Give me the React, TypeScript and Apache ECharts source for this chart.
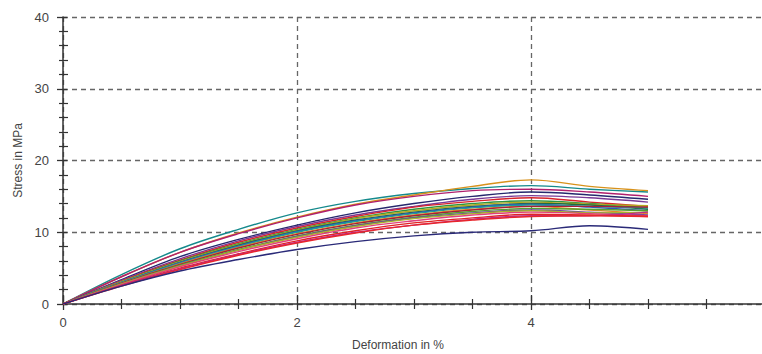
import React, { useEffect, useRef } from "react";
import * as echarts from "echarts";

const xValues = [0, 0.5, 1, 1.5, 2, 2.5, 3, 3.5, 4, 4.5, 5];

const specimen01 = [0, 4.1, 7.7, 10.4, 12.7, 14.3, 15.4, 16.1, 16.5, 16.0, 15.6];
const specimen02 = [0, 3.8, 7.2, 9.9, 12.1, 13.9, 15.2, 16.4, 17.3, 16.4, 15.8];
const specimen03 = [0, 3.8, 7.2, 9.8, 12.0, 13.8, 15.0, 15.8, 16.0, 15.6, 15.0];
const specimen04 = [0, 3.4, 6.6, 9.0, 11.0, 12.7, 14.0, 15.0, 15.6, 15.2, 14.6];
const specimen05 = [0, 3.3, 6.3, 8.8, 10.8, 12.4, 13.6, 14.6, 15.1, 14.8, 14.2];
const specimen06 = [0, 3.2, 6.1, 8.6, 10.6, 12.2, 13.5, 14.3, 14.8, 14.2, 13.6];
const specimen07 = [0, 3.1, 6.0, 8.4, 10.4, 12.0, 13.2, 14.0, 14.4, 14.0, 13.4];
const specimen08 = [0, 3.1, 5.9, 8.3, 10.3, 11.9, 13.0, 13.8, 14.2, 13.9, 13.7];
const specimen09 = [0, 3.0, 5.8, 8.2, 10.2, 11.7, 12.8, 13.6, 14.0, 13.8, 13.2];
const specimen10 = [0, 3.0, 5.8, 8.1, 10.1, 11.6, 12.7, 13.5, 13.9, 13.5, 13.0];
const specimen11 = [0, 3.0, 5.7, 8.0, 10.0, 11.5, 12.6, 13.4, 13.8, 13.6, 13.4];
const specimen12 = [0, 2.9, 5.6, 7.9, 9.8, 11.3, 12.4, 13.2, 13.6, 13.1, 12.6];
const specimen13 = [0, 2.9, 5.5, 7.8, 9.7, 11.2, 12.3, 13.1, 13.6, 13.6, 13.5];
const specimen14 = [0, 2.8, 5.4, 7.6, 9.5, 11.0, 12.1, 12.9, 13.3, 13.2, 13.0];
const specimen15 = [0, 2.8, 5.3, 7.5, 9.4, 10.9, 12.0, 12.7, 13.1, 12.8, 12.4];
const specimen16 = [0, 2.8, 5.3, 7.5, 9.3, 10.8, 11.9, 12.6, 13.0, 12.7, 12.8];
const specimen17 = [0, 2.7, 5.2, 7.3, 9.1, 10.6, 11.6, 12.4, 12.8, 12.6, 12.3];
const specimen18 = [0, 2.6, 5.0, 7.0, 8.8, 10.2, 11.3, 12.0, 12.5, 12.4, 12.2];
const specimen19 = [0, 2.6, 4.9, 6.9, 8.6, 10.0, 11.0, 11.8, 12.3, 12.3, 12.8];
const specimen20 = [0, 2.5, 4.8, 6.8, 8.5, 9.9, 11.0, 11.7, 12.2, 12.3, 12.2];
const specimen21 = [0, 2.5, 4.6, 6.2, 7.6, 8.7, 9.5, 10.0, 10.2, 10.9, 10.4];

const specimens = [
  specimen01, specimen02, specimen03, specimen04, specimen05, specimen06, specimen07,
  specimen08, specimen09, specimen10, specimen11, specimen12, specimen13, specimen14,
  specimen15, specimen16, specimen17, specimen18, specimen19, specimen20, specimen21,
];

const colors = [
  "#158a8c", "#d8921c", "#b0206e", "#26286e", "#7a3a96", "#d8242a", "#2e9440",
  "#b5a820", "#1f6e3c", "#3454b8", "#1c9c9a", "#e08a2a", "#a81e3a", "#55a030",
  "#6a48a0", "#a8b428", "#e0407a", "#e02424", "#c0288a", "#e8262c", "#2a2a78",
];

const xTicks = [0, 2, 4, 6];
const yTicks = [0, 10, 20, 30, 40];

export default function App() {
  const ref = useRef<HTMLDivElement>(null);
  useEffect(() => {
    document.body.style.margin = "0";
    const chart = echarts.init(ref.current!, null, { renderer: "svg" });
    const font = "Liberation Sans, Arial, sans-serif";
    const axisColor = "#333";
    const series: any[] = specimens.map((vals, i) => ({
      type: "line",
      xAxisIndex: 0,
      yAxisIndex: 0,
      data: vals.map((v, j) => [xValues[j], v]),
      showSymbol: false,
      smooth: 0.35,
      lineStyle: { color: colors[i], width: 1.4 },
      z: 3,
    }));
    chart.setOption({
      animation: false,
      grid: { left: 63, top: 17, width: 702, height: 287, outerBoundsMode: "none", containLabel: false },
      xAxis: [
        {
          type: "value",
          min: xTicks[0],
          max: xTicks[xTicks.length - 1],
          interval: 2,
          name: "Deformation in %",
          nameLocation: "middle",
          nameGap: 35,
          nameTextStyle: { fontFamily: font, fontSize: 12, color: "#444", padding: [0, 32, 0, 0] },
          axisLine: { lineStyle: { color: axisColor, width: 1.5 } },
          axisTick: { show: true, inside: false, length: 6, lineStyle: { color: axisColor, width: 1.3 } },
          minorTick: { show: true, splitNumber: 4, length: 5, lineStyle: { color: axisColor, width: 1.2 } },
          axisLabel: { fontFamily: font, fontSize: 13, color: "#444", margin: 12, showMaxLabel: false },
          splitLine: { show: true, lineStyle: { color: "#666", type: [5, 4], width: 1.3 } },
        },
        {
          type: "value",
          position: "bottom",
          min: 0,
          max: 6,
          interval: 2,
          axisLine: { show: false },
          axisTick: { show: true, inside: true, length: 9, lineStyle: { color: axisColor, width: 1.3 } },
          minorTick: { show: true, splitNumber: 4, length: 5, lineStyle: { color: axisColor, width: 1.2 } },
          axisLabel: { show: false },
          splitLine: { show: false },
        },
      ],
      yAxis: [
        {
          type: "value",
          min: yTicks[0],
          max: yTicks[yTicks.length - 1],
          interval: 10,
          name: "Stress in MPa",
          nameLocation: "middle",
          nameGap: 39,
          nameTextStyle: { fontFamily: font, fontSize: 12, color: "#444" },
          axisLine: { show: true, lineStyle: { color: axisColor, width: 1.5 } },
          axisTick: { show: true, inside: false, length: 6, lineStyle: { color: axisColor, width: 1.3 } },
          minorTick: { show: true, splitNumber: 5, length: 4, lineStyle: { color: axisColor, width: 1.2 } },
          axisLabel: { fontFamily: font, fontSize: 13, color: "#444", margin: 14 },
          splitLine: { show: true, lineStyle: { color: "#666", type: [5, 4], width: 1.3 } },
        },
        {
          type: "value",
          position: "left",
          min: 0,
          max: 40,
          interval: 10,
          axisLine: { show: false },
          axisTick: { show: true, inside: true, length: 4, lineStyle: { color: axisColor, width: 1.3 } },
          minorTick: { show: true, splitNumber: 5, length: 5, lineStyle: { color: axisColor, width: 1.2 } },
          axisLabel: { show: false },
          splitLine: { show: false },
        },
      ],
      series,
    });
    return () => chart.dispose();
  }, []);
  return <div ref={ref} style={{ width: 762, height: 354 }} />;
}
